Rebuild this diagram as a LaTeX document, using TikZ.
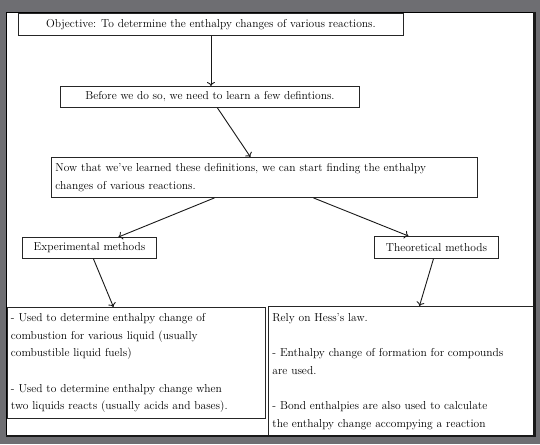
\documentclass[tikz,border=0pt]{standalone}
\usetikzlibrary{arrows.meta}
\definecolor{bgc}{RGB}{110,110,114}
\begin{document}
\begin{tikzpicture}[x=1pt,y=-1pt,
  box/.style={draw=black!85, line width=0.9pt, inner sep=0pt, fill=white,
    font=\fontsize{11.5}{17.7}\selectfont, anchor=north west},
  txtbox/.style={box, align=left, inner xsep=4pt},
  arr/.style={-{To[length=4pt,width=8pt,line width=0.9pt]}, line width=0.9pt, black!90}]
\useasboundingbox (0,0) rectangle (540,444);
\fill[bgc] (0,0) rectangle (540,444);
\fill[white] (6,12) rectangle (534,435);
\draw[black, line width=0.8pt] (6,435) -- (6,12) -- (534,12);

\node[box, minimum width=385pt, minimum height=22pt] (obj) at (18,13)
  {Objective: To determine the enthalpy changes of various reactions.};
\node[box, minimum width=299pt, minimum height=21pt] (bef) at (60,86)
  {Before we do so, we need to learn a few defintions.};
\node[txtbox, text width=418pt, minimum height=40pt] (now) at (51,157)
  {Now that we've learned these definitions, we can start finding the enthalpy\\
   changes of various reactions.};
\node[box, minimum width=134pt, minimum height=21pt] (exp) at (22,237)
  {Experimental methods};
\node[box, minimum width=124pt, minimum height=22pt] (theo) at (374,236)
  {Theoretical methods};
\node[txtbox, inner xsep=3.5pt, text width=251pt, minimum height=111pt] (left) at (7,307)
  {- Used to determine enthalpy change of\\
   combustion for various liquid (usually\\
   combustible liquid fuels)\\[17.7pt]
   - Used to determine enthalpy change when\\
   two liquids reacts (usually acids and bases).};
\node[txtbox, text width=257pt, minimum height=130pt] (right) at (268,306)
  {Rely on Hess's law.\\[17.7pt]
   - Enthalpy change of formation for compounds\\
   are used.\\[17.7pt]
   - Bond enthalpies are also used to calculate\\
   the enthalpy change accompying a reaction};

\fill[bgc] (0,437) rectangle (540,444);
\draw[black!90, line width=2.5pt] (534.5,12) -- (534.5,436) -- (6,436);

\draw[arr] (obj.south) -- (obj.south |- bef.north);
\draw[arr] ([xshift=7.5pt]bef.south) -- ([xshift=-14pt]now.north);
\draw[arr] ([xshift=-50pt]now.south) -- ([xshift=29pt]exp.north);
\draw[arr] ([xshift=49pt]now.south) -- ([xshift=-28pt]theo.north);
\draw[arr] ([xshift=4pt]exp.south) -- ([xshift=-23pt]left.north);
\draw[arr] ([xshift=-3pt]theo.south) -- ([xshift=18.5pt]right.north);
\end{tikzpicture}
\end{document}
